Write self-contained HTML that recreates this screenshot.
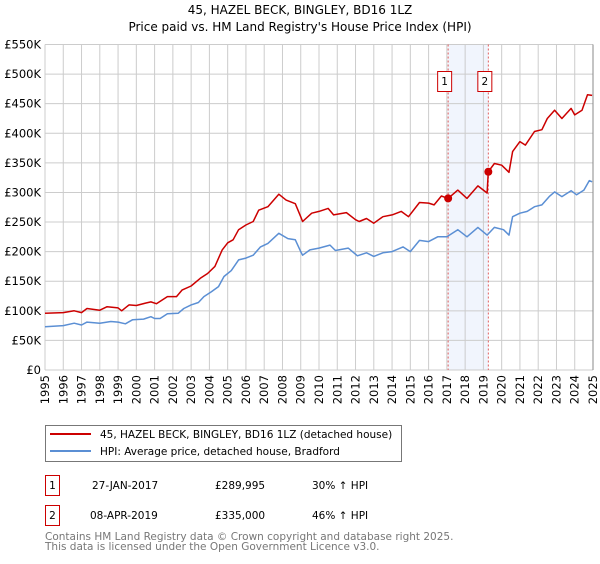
<!DOCTYPE html>
<html><head><meta charset="utf-8"><style>
body{margin:0;background:#fff;font-family:"DejaVu Sans","Liberation Sans",sans-serif;}
svg text{font-family:"DejaVu Sans","Liberation Sans",sans-serif;}
</style></head><body>
<svg id="c" width="600" height="560" xmlns="http://www.w3.org/2000/svg">
<text x="300" y="14" text-anchor="middle" font-size="12">45, HAZEL BECK, BINGLEY, BD16 1LZ</text>
<text x="300" y="31" text-anchor="middle" font-size="12">Price paid vs. HM Land Registry's House Price Index (HPI)</text>
<g id="grid"></g><g id="marks"></g><g id="axes"></g>
<g>
<rect x="45.5" y="425.5" width="356" height="36" fill="#fff" stroke="#777"/>
<line x1="50" y1="434" x2="91" y2="434" stroke="#cc0000" stroke-width="2"/>
<text x="100" y="438" font-size="10.5">45, HAZEL BECK, BINGLEY, BD16 1LZ (detached house)</text>
<line x1="50" y1="451" x2="91" y2="451" stroke="#5b8fd4" stroke-width="2"/>
<text x="100" y="455" font-size="10.5">HPI: Average price, detached house, Bradford</text>
</g>
<g font-size="10.5">
<rect x="45.5" y="475.5" width="14" height="20" fill="#fff" stroke="#cc0000"/>
<text x="52.5" y="489" text-anchor="middle">1</text>
<text x="92" y="489">27-JAN-2017</text><text x="215" y="489">£289,995</text><text x="312" y="489">30% ↑ HPI</text>
<rect x="45.5" y="505.5" width="14" height="20" fill="#fff" stroke="#cc0000"/>
<text x="52.5" y="519" text-anchor="middle">2</text>
<text x="90" y="519">08-APR-2019</text><text x="215" y="519">£335,000</text><text x="312" y="519">46% ↑ HPI</text>
</g>
<text x="45" y="540" font-size="10.5" fill="#777">Contains HM Land Registry data © Crown copyright and database right 2025.</text>
<text x="45" y="550" font-size="10.5" fill="#777">This data is licensed under the Open Government Licence v3.0.</text>
</svg>
<script>
const yTicks=[0,50,100,150,200,250,300,350,400,450,500,550];
const yTickLabels=["£0","£50K","£100K","£150K","£200K","£250K","£300K","£350K","£400K","£450K","£500K","£550K"];
const xYears=[1995,1996,1997,1998,1999,2000,2001,2002,2003,2004,2005,2006,2007,2008,2009,2010,2011,2012,2013,2014,2015,2016,2017,2018,2019,2020,2021,2022,2023,2024,2025];
const redT=[1995,1996,1996.6,1997,1997.3,1998,1998.4,1999,1999.2,1999.6,2000,2000.5,2000.8,2001.1,2001.7,2002.2,2002.5,2003,2003.5,2003.9,2004.3,2004.7,2005,2005.3,2005.6,2006,2006.4,2006.7,2007.2,2007.8,2008.2,2008.7,2009,2009.1,2009.6,2010,2010.5,2010.8,2011.5,2012,2012.2,2012.6,2013,2013.5,2014,2014.5,2014.9,2015.5,2016,2016.3,2016.7,2017.07,2017.6,2018.1,2018.7,2019.2,2019.27,2019.6,2020,2020.4,2020.6,2021,2021.3,2021.8,2022.2,2022.5,2022.9,2023.3,2023.8,2024,2024.4,2024.7,2024.95];
const redV=[96,97,100,97,104,101,107,105,100,110,109,113,115,112,124,124,135,142,155,163,175,203,215,220,237,245,251,270,276,297,287,281,259,251,265,268,273,262,266,254,251,256,248,259,262,268,259,283,282,279,294,290,304,290,311,299,335,349,346,334,369,386,380,403,406,425,439,425,442,431,439,465,464];
const blueT=[1995,1996,1996.6,1997,1997.3,1998,1998.6,1999,1999.4,1999.8,2000.4,2000.8,2001,2001.3,2001.7,2002.3,2002.6,2003,2003.4,2003.7,2004.1,2004.5,2004.8,2005.2,2005.6,2006,2006.4,2006.8,2007.2,2007.8,2008.3,2008.7,2009,2009.1,2009.5,2010,2010.6,2010.9,2011.6,2012.1,2012.6,2013,2013.5,2014,2014.6,2015,2015.5,2016,2016.5,2017,2017.6,2018.1,2018.7,2019.2,2019.6,2020.1,2020.4,2020.6,2021,2021.4,2021.8,2022.2,2022.6,2022.9,2023.3,2023.8,2024.1,2024.5,2024.8,2024.95];
const blueV=[73,75,79,76,81,79,82,81,78,85,86,90,87,87,95,96,104,110,114,124,132,141,158,168,186,189,194,208,214,231,222,220,200,194,203,206,211,202,206,193,198,192,198,200,208,200,219,217,225,225,237,225,241,228,241,237,228,259,265,268,276,279,293,301,293,303,296,304,320,318];
const saleT=[2017.07,2019.27];
const saleV=[289.995,335];
const saleLabels=["1","2"];
const X0=45,X1=593,Y0=370,Y1=44.5;
const xs=t=>X0+(t-1995)/30*(X1-X0);
const ys=v=>Y0-v/550*(Y0-Y1);
const NS="http://www.w3.org/2000/svg";
function mk(p,tag,attrs){const e=document.createElementNS(NS,tag);for(const k in attrs)e.setAttribute(k,attrs[k]);p.appendChild(e);return e;}
const grid=document.getElementById('grid'),marks=document.getElementById('marks'),axes=document.getElementById('axes');
mk(grid,'rect',{x:xs(saleT[0]),y:Y1,width:xs(saleT[1])-xs(saleT[0]),height:Y0-Y1,fill:'#eef3fc',opacity:0.8});
yTicks.forEach((v,i)=>{
 const l=mk(grid,'line',{x1:X0,x2:X1,y1:ys(v),y2:ys(v),stroke:'#ccc'});
 
 
 const t=mk(axes,'text',{x:X0-4,y:ys(v)+4,'text-anchor':'end','font-size':'11.5'});
 t.textContent=yTickLabels[i];
 
 
});
xYears.forEach(yr=>{
 const l=mk(grid,'line',{x1:xs(yr),x2:xs(yr),y1:Y1,y2:Y0,stroke:'#ccc'});
 
 
 const t=mk(axes,'text',{x:0,y:0,'font-size':'11.5','text-anchor':'end',transform:`translate(${xs(yr)+4},${Y0+5}) rotate(-90)`});
 t.textContent=yr;
 
 
});
mk(grid,'line',{x1:X1,x2:X1,y1:Y1,y2:Y0,stroke:'#888'});
saleT.forEach((t,i)=>{
 const l=mk(marks,'line',{x1:xs(t),x2:xs(t),y1:Y1,y2:Y0,stroke:'#e06060','stroke-dasharray':'2,2'});
 
 
});
function path(T,V,c,name){
 const d=T.map((t,i)=>(i?'L':'M')+xs(t).toFixed(1)+','+ys(V[i]).toFixed(1)).join('');
 const p=mk(marks,'path',{d:d,fill:'none',stroke:c,'stroke-width':1.5,'stroke-linejoin':'round'});
 
 
}
path(blueT,blueV,'#5b8fd4','hpi-line');
path(redT,redV,'#cc0000','property-price-line');
saleT.forEach((t,i)=>{
 const c=mk(marks,'circle',{cx:xs(t),cy:ys(saleV[i]),r:4,fill:'#cc0000'});
 
 
 const r=mk(marks,'rect',{x:xs(t)-10.5,y:71.5,width:14,height:20,fill:'#fff',stroke:'#cc0000'});
 
 
 const tx=mk(marks,'text',{x:xs(t)-3.5,y:85,'text-anchor':'middle','font-size':'10.5'});
 tx.textContent=saleLabels[i];
 
 
});
</script>
</body></html>
